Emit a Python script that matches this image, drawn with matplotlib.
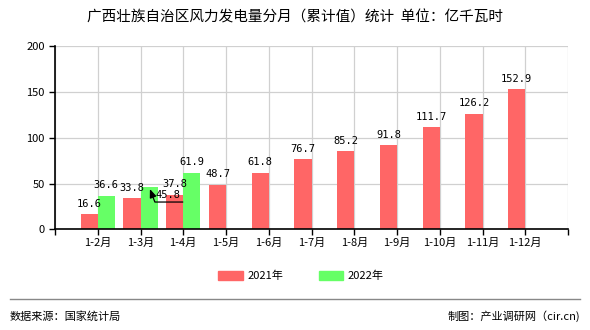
import matplotlib.pyplot as plt
import numpy as np

plt.rcParams['font.family'] = ['Noto Sans CJK SC', 'DejaVu Sans']

title = '广西壮族自治区风力发电量分月（累计值）统计  单位：亿千瓦时'
months = ['1-2月', '1-3月', '1-4月', '1-5月', '1-6月', '1-7月', '1-8月',
          '1-9月', '1-10月', '1-11月', '1-12月']
values_2021 = [16.6, 33.8, 37.8, 48.7, 61.8, 76.7, 85.2, 91.8, 111.7, 126.2, 152.9]
values_2022 = [36.6, 45.8, 61.9]
series_names = ['2021年', '2022年']

red = '#ff6666'
green = '#66ff66'
bar_w = 0.4

fig = plt.figure(figsize=(5.9, 3.3), dpi=100)
ax = fig.add_axes([55 / 590, 1 - 229.3 / 330, 513 / 590, 183 / 330])

x = np.arange(len(months))
x22 = np.arange(len(values_2022))
ax.bar(x - bar_w / 2, values_2021, width=bar_w, color=red, zorder=3)
ax.bar(x22 + bar_w / 2, values_2022, width=bar_w, color=green, zorder=3)

# value labels
lab_kw = dict(fontsize=7.5, family='DejaVu Sans Mono', zorder=4)
for xi, v in zip(x, values_2021):
    ax.annotate(f'{v}', (xi - bar_w / 2, v), xytext=(0, 4), textcoords='offset points',
                ha='center', va='bottom', **lab_kw)
for xi, v in zip(x22, values_2022):
    if xi == 1:
        # crowded spot: label moved aside, with a bent pointer back to the bar
        ax.text(xi + 0.64, v - 8.4, f'{v}', ha='center', va='center', **lab_kw)
        ax.annotate('', xy=(xi + 0.22, v - 1.8), xytext=(xi + 0.99, v - 16),
                    arrowprops=dict(arrowstyle='-|>,head_length=0.5,head_width=0.2',
                                    color='black', lw=0.9, shrinkA=0, shrinkB=0,
                                    connectionstyle='angle,angleA=0,angleB=111,rad=0'),
                    zorder=4)
        continue
    ax.annotate(f'{v}', (xi + bar_w / 2, v), xytext=(0, 4), textcoords='offset points',
                ha='center', va='bottom', **lab_kw)

ax.set_xlim(-1, len(months))
ax.set_ylim(0, 200)
ax.set_yticks([0, 50, 100, 150, 200])
ax.set_xticks(np.arange(-1, len(months) + 1))
ax.set_xticklabels([''] + months + [''])
ax.tick_params(axis='both', labelsize=8, length=4, width=1, color='black')
ax.tick_params(axis='x', labelsize=8, pad=2)
ax.grid(True, color='#d0d0d0', lw=0.9, zorder=0)
for s in ['top', 'right']:
    ax.spines[s].set_visible(False)
for s in ['left', 'bottom']:
    ax.spines[s].set_linewidth(1.2)
    ax.spines[s].set_zorder(5)

fig.text(0.5, 1 - 17 / 330, title, ha='center', va='center', fontsize=10.5)

# legend
handles = [plt.Rectangle((0, 0), 1, 1, color=red), plt.Rectangle((0, 0), 1, 1, color=green)]
fig.legend(handles, series_names, loc='center', bbox_to_anchor=(0.51, 1 - 276 / 330), ncol=2,
           frameon=False, fontsize=8, handlelength=2.2, handleheight=0.8, columnspacing=3.2,
           handletextpad=0.4)

fig.add_artist(plt.Line2D([10 / 590, 580 / 590], [1 - 299 / 330] * 2, color='#888888', lw=1))
fig.text(10 / 590, 1 - 316 / 330, '数据来源：国家统计局', ha='left', va='center', fontsize=8)
fig.text(580 / 590, 1 - 316 / 330, '制图：产业调研网（cir.cn)', ha='right', va='center', fontsize=8)

fig.savefig('out.png', dpi=100)
